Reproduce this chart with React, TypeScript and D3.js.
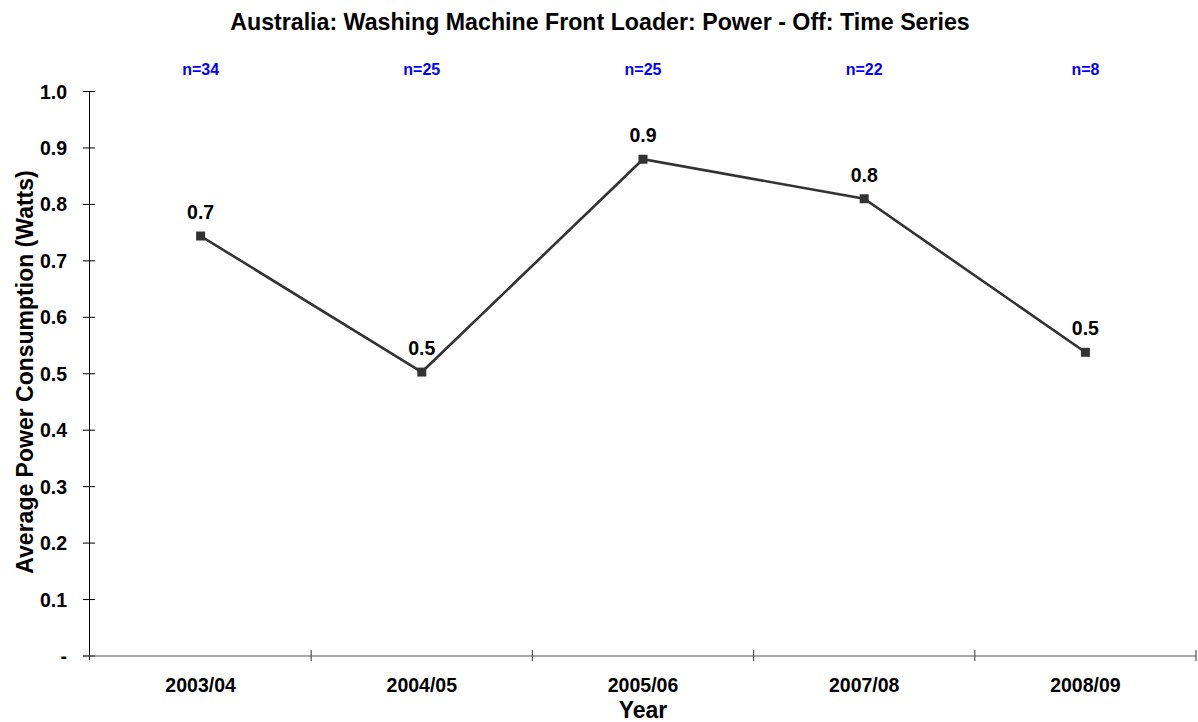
import React from "react";
import * as d3 from "d3";

const categories = ["2003/04", "2004/05", "2005/06", "2007/08", "2008/09"];
const values = [0.744, 0.503, 0.88, 0.81, 0.538];
const valueLabels = ["0.7", "0.5", "0.9", "0.8", "0.5"];
const counts = ["n=34", "n=25", "n=25", "n=22", "n=8"];
const yTicks = [0, 0.1, 0.2, 0.3, 0.4, 0.5, 0.6, 0.7, 0.8, 0.9, 1.0];

const W = 1198, H = 722;
const left = 90, right = 1196, top = 91.5, bottom = 656;

export default function App() {
  const x = d3.scaleBand<string>().domain(categories).range([left, right]);
  const y = d3.scaleLinear().domain([0, 1]).range([bottom, top]);
  const line = d3.line<number>()
    .x((_, i) => (x(categories[i]) as number) + x.bandwidth() / 2)
    .y((d) => y(d));
  const font = "'Liberation Sans', Arial, sans-serif";
  return (
    <svg width={W} height={H} style={{ position: "absolute", left: 0, top: 0, background: "#fff" }} fontFamily={font}>
      <text x={600} y={30} textAnchor="middle" fontSize={23.2} fontWeight="bold">
        Australia: Washing Machine Front Loader: Power - Off: Time Series
      </text>
      {/* y axis */}
      <line x1={left - 0.5} x2={left - 0.5} y1={top} y2={bottom + 4} stroke="#000" strokeWidth={1} />
      {yTicks.map((t) => (
        <g key={t}>
          <line x1={left - 7} x2={left + 5} y1={y(t)} y2={y(t)} stroke="#000" strokeWidth={1} />
          <text x={67} y={y(t) + 7} textAnchor="end" fontSize={19.5} fontWeight="bold">
            {t === 0 ? "-" : t.toFixed(1)}
          </text>
        </g>
      ))}
      {/* x axis */}
      <line x1={left - 7} x2={right} y1={bottom} y2={bottom} stroke="#555" strokeWidth={1.2} />
      {categories.map((c, i) => (
        <g key={c}>
          <line x1={(x(c) as number) + x.bandwidth()} x2={(x(c) as number) + x.bandwidth()} y1={bottom - 6} y2={bottom + 5} stroke="#555" strokeWidth={1.2} />
          <text x={(x(c) as number) + x.bandwidth() / 2} y={692.3} textAnchor="middle" fontSize={19.5} fontWeight="bold">{c}</text>
          <text x={(x(c) as number) + x.bandwidth() / 2} y={75} textAnchor="middle" fontSize={16} fontWeight="bold" fill="#0000ff">{counts[i]}</text>
        </g>
      ))}
      <path d={line(values) || ""} fill="none" stroke="#333" strokeWidth={2.6} />
      {values.map((v, i) => {
        const cx = (x(categories[i]) as number) + x.bandwidth() / 2;
        const cy = y(v);
        return (
          <g key={i}>
            <rect x={cx - 4.5} y={cy - 4.5} width={9} height={9} fill="#333" />
            <text x={cx} y={cy - 17} textAnchor="middle" fontSize={19.5} fontWeight="bold">{valueLabels[i]}</text>
          </g>
        );
      })}
      <text x={643} y={718} textAnchor="middle" fontSize={23} fontWeight="bold">Year</text>
      <text transform={`translate(32.5, 372) rotate(-90)`} textAnchor="middle" fontSize={23} fontWeight="bold">
        Average Power Consumption (Watts)
      </text>
    </svg>
  );
}
